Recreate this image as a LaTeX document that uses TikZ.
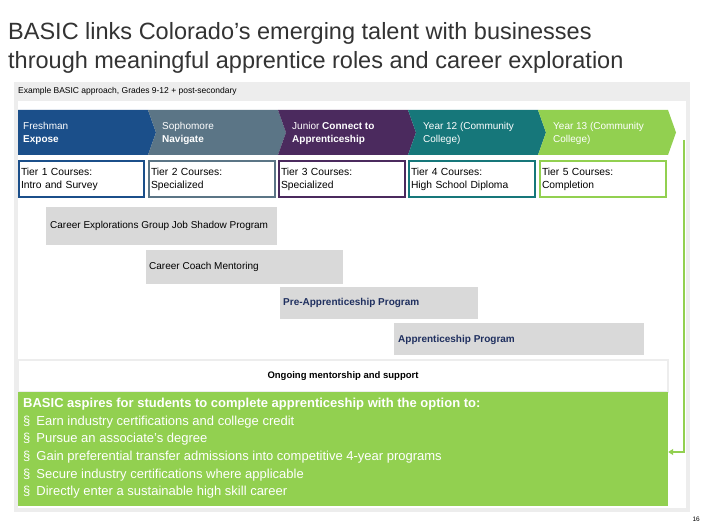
\documentclass[tikz,border=0pt]{standalone}
\usepackage{fontspec}
\setmainfont{Liberation Sans}
\usetikzlibrary{arrows.meta}
\definecolor{cblue}{HTML}{1B4F8A}
\definecolor{cslate}{HTML}{5B7586}
\definecolor{cpurple}{HTML}{4B2A5E}
\definecolor{cteal}{HTML}{16777A}
\definecolor{cgreen}{HTML}{92D050}
\definecolor{cbar}{HTML}{D9D9D9}
\definecolor{cnavy}{HTML}{1F2F5F}
\definecolor{cpanel}{HTML}{EDEDED}
\tikzset{
  chev/.style={text=white,font=\fontsize{10}{13}\selectfont,align=left,anchor=north west,inner sep=0pt},
  tier/.style={draw=#1,line width=2.5pt,fill=white,font=\fontsize{10.3}{13}\selectfont,align=left,inner sep=0pt},
  bar/.style={fill=cbar,draw=none},
  bartext/.style={font=\fontsize{10}{12}\selectfont,anchor=west,inner sep=0pt},
}
\begin{document}
\begin{tikzpicture}[x=1pt,y=-1pt]
\useasboundingbox (0,0) rectangle (706,529);
\fill[white] (0,0) rectangle (706,529);
\node[anchor=west,inner sep=0pt,text=black!80,font=\fontsize{23.5}{28}\selectfont] (t1) at (8,33) {BASIC links Colorado’s emerging talent with businesses};
\node[anchor=west,inner sep=0pt,text=black!80,font=\fontsize{23.5}{28}\selectfont] (t2) at (8,62) {through meaningful apprentice roles and career exploration};
\fill[cpanel] (14,82) rectangle (690,512);
\fill[white] (18,101) rectangle (686,508);
\node[anchor=west,inner sep=0pt,font=\fontsize{8.5}{10}\selectfont] (ex) at (18,91) {Example BASIC approach, Grades 9-12 + post-secondary};
% chevrons
\fill[cblue] (18,110) -- (148,110) -- (156,132.5) -- (148,155) -- (18,155) -- cycle;
\fill[cslate] (148,110) -- (278,110) -- (286,132.5) -- (278,155) -- (148,155) -- (156,132.5) -- cycle;
\fill[cpurple] (278,110) -- (408,110) -- (416,132.5) -- (408,155) -- (278,155) -- (286,132.5) -- cycle;
\fill[cteal] (408,110) -- (538,110) -- (546,132.5) -- (538,155) -- (408,155) -- (416,132.5) -- cycle;
\fill[cgreen] (538,110) -- (668,110) -- (676,132.5) -- (668,155) -- (538,155) -- (546,132.5) -- cycle;
\node[chev] (c1) at (23,122) {Freshman\\\textbf{Expose}};
\node[chev] (c2) at (162,122) {Sophomore\\\textbf{Navigate}};
\node[chev] (c3) at (292,122) {Junior \textbf{Connect to}\\\textbf{Apprenticeship}};
\node[chev] (c4) at (423,122) {Year 12 (Community\\College)};
\node[chev] (c5) at (553,122) {Year 13 (Community\\College)};
% tiers
\node[tier=cblue,minimum width=125pt,minimum height=36pt,text width=121pt] (r1) at (81.5,179) {Tier 1 Courses:\\Intro and Survey};
\node[tier=cslate,minimum width=126pt,minimum height=36pt,text width=122pt] (r2) at (212,179) {Tier 2 Courses:\\Specialized};
\node[tier=cpurple,minimum width=126pt,minimum height=36pt,text width=122pt] (r3) at (342,179) {Tier 3 Courses:\\Specialized};
\node[tier=cteal,minimum width=126pt,minimum height=36pt,text width=122pt] (r4) at (472,179) {Tier 4 Courses:\\High School Diploma};
\node[tier=cgreen,minimum width=126pt,minimum height=36pt,text width=122pt] (r5) at (603,179) {Tier 5 Courses:\\Completion};
% bars
\fill[bar] (46,207) rectangle (277,245);
\node[bartext] (b1) at (50,226) {Career Explorations Group Job Shadow Program};
\fill[bar] (146,250) rectangle (343,284);
\node[bartext] (b2) at (149,267) {Career Coach Mentoring};
\fill[bar] (280,287) rectangle (478,319);
\node[bartext,font=\fontsize{10}{12}\selectfont\bfseries,text=cnavy] (b3) at (283,303) {Pre-Apprenticeship Program};
\fill[bar] (394,323) rectangle (644,355);
\node[bartext,font=\fontsize{10}{12}\selectfont\bfseries,text=cnavy] (b4) at (398,340) {Apprenticeship Program};
% ongoing
\node[draw=cpanel,line width=1.5pt,fill=white,minimum width=650pt,minimum height=32pt,font=\fontsize{9.5}{11}\selectfont\bfseries,inner sep=0pt] (on) at (343,376) {Ongoing mentorship and support};
% green box
\node[fill=cgreen,minimum width=650pt,minimum height=114pt,inner sep=0pt] (gb) at (343,449) {};
\node[anchor=north west,inner sep=0pt,text=white,align=left,font=\fontsize{13}{17.6}\selectfont] (gt) at (23,398)
{\textbf{BASIC aspires for students to complete apprenticeship with the option to:}\\
§\hspace{6pt}Earn industry certifications and college credit\\
§\hspace{6pt}Pursue an associate’s degree\\
§\hspace{6pt}Gain preferential transfer admissions into competitive 4-year programs\\
§\hspace{6pt}Secure industry certifications where applicable\\
§\hspace{6pt}Directly enter a sustainable high skill career};
% arrow
\coordinate (a0) at (684,140);
\draw[cgreen,line width=2pt,-{Triangle[length=5pt,width=6pt]}] (a0) -- (684,452) -- (gb.east |- 0,452);
\node[anchor=east,inner sep=0pt,font=\fontsize{6.5}{8}\selectfont] (pn) at (700,519) {16};
\end{tikzpicture}
\end{document}
